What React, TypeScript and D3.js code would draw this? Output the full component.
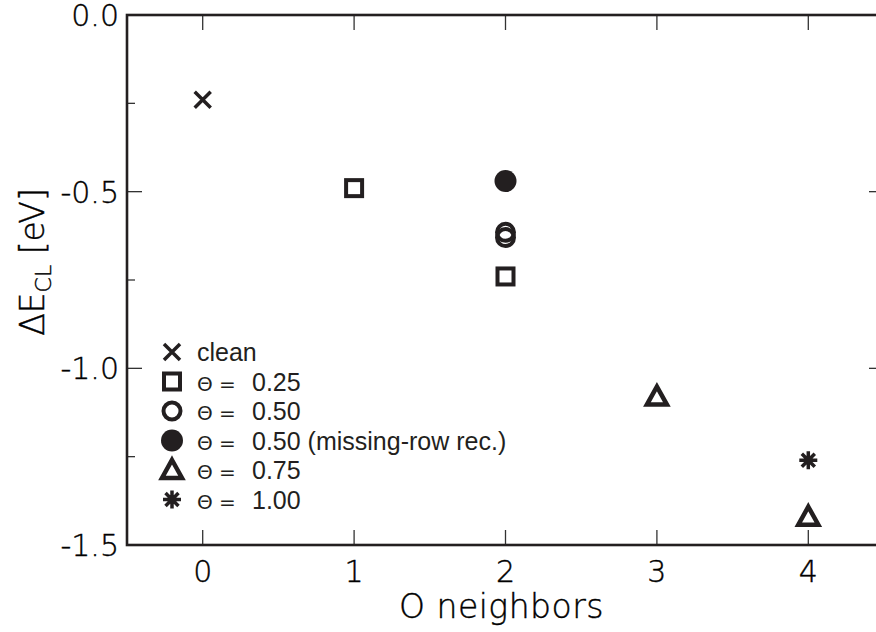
import React, { useRef, useEffect } from "react";
import * as d3 from "d3";

// data
const cleanX = [0];
const cleanY = [-0.24];
const theta025X = [1, 2];
const theta025Y = [-0.49, -0.74];
const theta050X = [2, 2];
const theta050Y = [-0.615, -0.63];
const theta050mrX = [2];
const theta050mrY = [-0.47];
const theta075X = [3, 4];
const theta075Y = [-1.08, -1.42];
const theta100X = [4];
const theta100Y = [-1.26];

const xTicks = [0, 1, 2, 3, 4];
const yTicks = [0, -0.5, -1.0, -1.5];
const yMinorTicks = [-0.25, -0.75, -1.25];

const legendSymbols = ["cross", "square", "circle", "disc", "triangle", "star"];
const legendLabels = ["clean", "0.25", "0.50", "0.50 (missing-row rec.)", "0.75", "1.00"];

const ink = "#231f20";
const axisFont = "'DejaVu Sans', sans-serif";

const App = () => {
  const container = useRef(null);

  const width = 876;
  const height = 632;

  useEffect(() => {
    const svg = d3.select(container.current);
    svg.selectAll("*").remove();

    const x = d3.scaleLinear().domain([-0.5, 4.5]).range([127, 884]);
    const y = d3.scaleLinear().domain([0, -1.5]).range([15, 545]);

    // marker drawing
    const drawMarker = (g, kind, cx, cy) => {
      if (kind === "cross") {
        const s = 8;
        g.append("path")
          .attr("d", `M${cx - s},${cy - s}L${cx + s},${cy + s}M${cx - s},${cy + s}L${cx + s},${cy - s}`)
          .attr("stroke", ink)
          .attr("stroke-width", 3.5)
          .attr("fill", "none");
      } else if (kind === "square") {
        const s = 8;
        g.append("rect")
          .attr("x", cx - s)
          .attr("y", cy - s)
          .attr("width", 2 * s)
          .attr("height", 2 * s)
          .attr("fill", "white")
          .attr("stroke", ink)
          .attr("stroke-width", 4);
      } else if (kind === "circle") {
        g.append("circle")
          .attr("cx", cx)
          .attr("cy", cy)
          .attr("r", 8.5)
          .attr("fill", "none")
          .attr("stroke", ink)
          .attr("stroke-width", 4);
      } else if (kind === "disc") {
        g.append("circle")
          .attr("cx", cx)
          .attr("cy", cy)
          .attr("r", 11)
          .attr("fill", ink);
      } else if (kind === "triangle") {
        const w = 10, h = 9;
        g.append("path")
          .attr("d", `M${cx},${cy - h - 1}L${cx + w},${cy + h - 1}L${cx - w},${cy + h - 1}Z`)
          .attr("fill", "white")
          .attr("stroke", ink)
          .attr("stroke-width", 4.5)
          .attr("stroke-linejoin", "miter");
      } else if (kind === "star") {
        const s = 9;
        const d = s * 0.72;
        g.append("path")
          .attr(
            "d",
            `M${cx},${cy - s}L${cx},${cy + s}M${cx - s},${cy}L${cx + s},${cy}` +
              `M${cx - d},${cy - d}L${cx + d},${cy + d}M${cx - d},${cy + d}L${cx + d},${cy - d}`
          )
          .attr("stroke", ink)
          .attr("stroke-width", 3.5)
          .attr("fill", "none");
      }
    };

    // ticks
    const ticks = svg.append("g").attr("stroke", "#333").attr("stroke-width", 1.3);
    xTicks.forEach((t) => {
      ticks.append("line").attr("x1", x(t)).attr("x2", x(t)).attr("y1", y(-1.5)).attr("y2", y(-1.5) - 15);
      ticks.append("line").attr("x1", x(t)).attr("x2", x(t)).attr("y1", y(0)).attr("y2", y(0) + 15);
    });
    yTicks.forEach((t) => {
      ticks.append("line").attr("x1", x(-0.5)).attr("x2", x(-0.5) + 15).attr("y1", y(t)).attr("y2", y(t));
      ticks.append("line").attr("x1", x(4.5)).attr("x2", x(4.5) - 15).attr("y1", y(t)).attr("y2", y(t));
    });
    yMinorTicks.forEach((t) => {
      ticks.append("line").attr("x1", x(-0.5)).attr("x2", x(-0.5) + 8).attr("y1", y(t)).attr("y2", y(t));
      ticks.append("line").attr("x1", x(4.5)).attr("x2", x(4.5) - 8).attr("y1", y(t)).attr("y2", y(t));
    });

    // frame
    svg
      .append("rect")
      .attr("x", x(-0.5))
      .attr("y", y(0))
      .attr("width", x(4.5) - x(-0.5))
      .attr("height", y(-1.5) - y(0))
      .attr("fill", "none")
      .attr("stroke", ink)
      .attr("stroke-width", 2.6);

    // tick labels
    svg
      .append("g")
      .selectAll("text")
      .data(yTicks)
      .enter()
      .append("text")
      .attr("x", 119)
      .attr("y", (d) => y(d) + 11)
      .attr("text-anchor", "end")
      .style("font-family", axisFont)
      .style("font-weight", 200)
      .style("font-size", "30px")
      .style("fill", "#000")
      .style("stroke", "#000")
      .style("stroke-width", 0.4)
      .text((d) => d3.format(".1f")(d).replace("−", "-"));

    svg
      .append("g")
      .selectAll("text")
      .data(xTicks)
      .enter()
      .append("text")
      .attr("x", (d) => x(d))
      .attr("y", 582)
      .attr("text-anchor", "middle")
      .style("font-family", axisFont)
      .style("font-weight", 200)
      .style("font-size", "30px")
      .style("fill", "#000")
      .style("stroke", "#000")
      .style("stroke-width", 0.4)
      .text((d) => d);

    // axis titles
    svg
      .append("text")
      .attr("x", (x(-0.5) + x(4.5)) / 2 - 4)
      .attr("y", 618)
      .attr("text-anchor", "middle")
      .style("font-family", axisFont)
      .style("font-weight", 200)
      .style("font-size", "33px")
      .style("letter-spacing", "0.5px")
      .style("fill", "#000")
      .style("stroke", "#000")
      .style("stroke-width", 0.4)
      .text("O neighbors");

    const yt = svg
      .append("text")
      .attr("transform", "translate(44, 262) rotate(-90)")
      .attr("text-anchor", "middle")
      .style("font-family", axisFont)
      .style("font-weight", 200)
      .style("font-size", "33px")
      .style("fill", "#000")
      .style("stroke", "#000")
      .style("stroke-width", 0.4);
    yt.append("tspan").text("ΔE");
    yt.append("tspan").attr("dy", 7).style("font-size", "22px").text("CL");
    yt.append("tspan").attr("dy", -7).text(" [eV]");

    // data points
    const pts = svg.append("g");
    const series = [
      { kind: "cross", xs: cleanX, ys: cleanY },
      { kind: "square", xs: theta025X, ys: theta025Y },
      { kind: "circle", xs: theta050X, ys: theta050Y },
      { kind: "disc", xs: theta050mrX, ys: theta050mrY },
      { kind: "triangle", xs: theta075X, ys: theta075Y },
      { kind: "star", xs: theta100X, ys: theta100Y },
    ];
    series.forEach((s) => {
      s.xs.forEach((xv, i) => drawMarker(pts, s.kind, x(xv), y(s.ys[i])));
    });

    // legend
    const legend = svg.append("g");
    legendSymbols.forEach((kind, i) => {
      const base = 361 + i * 29.5;
      drawMarker(legend, kind, 172, base - 9);
      if (i === 0) {
        legend
          .append("text")
          .attr("x", 197)
          .attr("y", base)
          .style("font-family", "'Liberation Sans', Arial, sans-serif")
          .style("font-size", "25px")
          .style("fill", ink)
          .text(legendLabels[i]);
      } else {
        legend
          .append("text")
          .attr("x", 197)
          .attr("y", base)
          .style("font-family", "'DejaVu Sans', sans-serif")
          .style("font-size", "20px")
          .style("fill", ink)
          .text("Θ =");
        legend
          .append("text")
          .attr("x", 252)
          .attr("y", base)
          .style("font-family", "'Liberation Sans', Arial, sans-serif")
          .style("font-size", "25px")
          .style("fill", ink)
          .text(legendLabels[i]);
      }
    });
  }, []);

  return (
    <div style={{ position: "absolute", left: 0, top: 0, width: width, height: height }}>
      <svg ref={container} width={width} height={height} style={{ display: "block", background: "white" }} />
    </div>
  );
};

export default App;
